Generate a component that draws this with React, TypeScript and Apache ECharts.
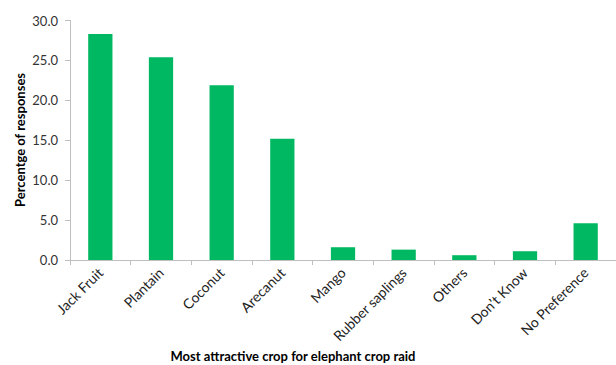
import React, { useEffect, useRef } from "react";
import * as echarts from "echarts";

const categories = [
  "Jack Fruit",
  "Plantain",
  "Coconut",
  "Arecanut",
  "Mango",
  "Rubber saplings",
  "Others",
  "Don\u2019t Know",
  "No Preference",
];
const percentages = [28.3, 25.4, 21.9, 15.2, 1.6, 1.3, 0.6, 1.1, 4.6];
const yTicks = { min: 0, max: 30, interval: 5 };

const FONT = "Lato, 'Liberation Sans', sans-serif";

export default function App() {
  const ref = useRef<HTMLDivElement>(null);

  useEffect(() => {
    if (!ref.current) return;
    const chart = echarts.init(ref.current, null, { renderer: "svg" });
    chart.setOption({
      animation: false,
      backgroundColor: "#ffffff",
      grid: { left: 70, right: 0, top: 20.5, bottom: 105 },
      xAxis: {
        type: "category",
        data: categories,
        axisLine: { lineStyle: { color: "#bfbfbf", width: 1 } },
        axisTick: { show: true, alignWithLabel: false, length: 5, lineStyle: { color: "#bfbfbf" } },
        axisLabel: {
          rotate: 45,
          interval: 0,
          margin: 10,
          color: "#222",
          fontFamily: FONT,
          fontSize: 14,
        },
      },
      yAxis: {
        type: "value",
        min: yTicks.min,
        max: yTicks.max,
        interval: yTicks.interval,
        splitLine: { show: false },
        axisLine: { show: true, lineStyle: { color: "#bfbfbf", width: 1 } },
        axisTick: { show: true, length: 5, lineStyle: { color: "#bfbfbf" } },
        axisLabel: {
          formatter: (v: number) => v.toFixed(1),
          color: "#333",
          fontFamily: FONT,
          fontSize: 13,
          margin: 12,
        },
      },
      graphic: [
        {
          type: "text",
          x: 20,
          y: 140,
          rotation: Math.PI / 2,
          style: {
            text: "Percentge of responses",
            fontFamily: FONT,
            fontSize: 13,
            fontWeight: "bold",
            fill: "#000",
            align: "center",
            verticalAlign: "middle",
          },
        },
        {
          type: "text",
          x: 293,
          y: 356,
          style: {
            text: "Most attractive crop for elephant crop raid",
            fontFamily: FONT,
            fontSize: 13,
            fontWeight: "bold",
            fill: "#000",
            align: "center",
            verticalAlign: "middle",
          },
        },
      ],
      series: [
        {
          type: "bar",
          data: percentages,
          barWidth: "40%",
          itemStyle: { color: "#00b862" },
        },
      ],
    });
    return () => chart.dispose();
  }, []);

  return (
    <div
      ref={ref}
      style={{ position: "absolute", left: 0, top: 0, width: 616, height: 365 }}
    />
  );
}
